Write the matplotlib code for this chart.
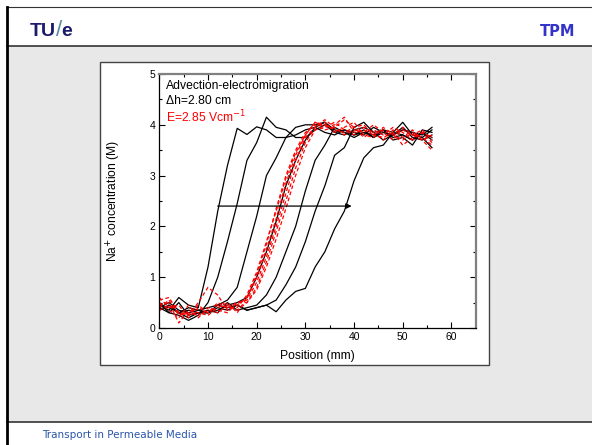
import numpy as np
import matplotlib.pyplot as plt
from matplotlib.patches import Rectangle
from matplotlib.lines import Line2D

# positions along the column (mm)
position = list(range(0, 58, 2))

# measured Na+ profiles, black = advection-electromigration runs
black_runs = [
    [0.45, 0.35, 0.6, 0.45, 0.4, 1.2, 2.3, 3.2, 3.93, 3.81, 3.96, 3.9, 3.75, 3.75, 3.8,
     3.9, 3.95, 3.85, 3.8, 3.9, 3.85, 3.8, 3.95, 3.85, 3.8, 3.9, 3.85, 3.8, 3.95],
    [0.4, 0.3, 0.25, 0.15, 0.25, 0.5, 1.0, 1.7, 2.45, 3.3, 3.65, 4.15, 3.95, 3.9, 3.75,
     3.75, 3.9, 4.0, 3.85, 3.9, 3.8, 3.85, 3.75, 3.9, 3.85, 3.8, 3.7, 3.85, 3.75],
    [0.35, 0.45, 0.3, 0.2, 0.3, 0.3, 0.45, 0.55, 0.8, 1.5, 2.2, 3.0, 3.35, 3.75, 3.95,
     4.0, 4.0, 4.05, 3.85, 3.8, 3.9, 3.95, 3.85, 3.7, 3.8, 3.9, 3.85, 3.75, 3.9],
    [0.45, 0.4, 0.3, 0.35, 0.3, 0.3, 0.35, 0.45, 0.5, 0.6, 1.0, 1.5, 2.1, 2.8, 3.3,
     3.7, 3.95, 4.05, 3.9, 3.85, 3.75, 3.85, 3.8, 3.9, 3.75, 3.8, 3.7, 3.85, 3.7],
    [0.5, 0.3, 0.5, 0.25, 0.3, 0.35, 0.3, 0.5, 0.35, 0.4, 0.45, 0.65, 1.0, 1.5, 2.0,
     2.7, 3.3, 3.6, 3.95, 3.85, 3.8, 3.9, 3.75, 3.85, 3.8, 3.95, 3.75, 3.7, 3.8],
    [0.4, 0.5, 0.35, 0.3, 0.35, 0.3, 0.4, 0.35, 0.45, 0.35, 0.4, 0.45, 0.55, 0.85, 1.2,
     1.7, 2.3, 2.8, 3.4, 3.55, 3.95, 4.05, 3.85, 3.9, 3.7, 3.75, 3.6, 3.9, 3.85],
    [0.35, 0.45, 0.3, 0.4, 0.35, 0.4, 0.45, 0.4, 0.45, 0.35, 0.4, 0.45, 0.32, 0.55, 0.72,
     0.78, 1.2, 1.5, 1.95, 2.3, 2.9, 3.35, 3.55, 3.6, 3.85, 4.05, 3.8, 3.75, 3.55],
]

# red dashed runs
red_runs = [
    [0.55, 0.6, 0.3, 0.25, 0.5, 0.8, 0.65, 0.35, 0.45, 0.6, 1.05, 1.65, 2.35, 3.0, 3.5,
     3.85, 4.0, 3.9, 3.95, 4.1, 3.95, 3.75, 3.9, 3.8, 3.95, 3.85, 3.7, 3.85, 3.65],
    [0.45, 0.5, 0.1, 0.35, 0.3, 0.25, 0.4, 0.5, 0.3, 0.6, 1.0, 1.55, 2.15, 2.85, 3.4,
     3.8, 4.05, 3.95, 4.05, 3.9, 3.8, 3.95, 3.85, 3.7, 3.9, 3.75, 3.9, 3.7, 3.5],
    [0.6, 0.4, 0.45, 0.2, 0.4, 0.3, 0.45, 0.4, 0.5, 0.55, 0.9, 1.4, 2.0, 2.65, 3.3,
     3.75, 3.95, 4.05, 3.85, 3.95, 4.05, 3.8, 3.75, 3.95, 3.8, 3.7, 3.85, 3.75, 3.6],
    [0.4, 0.55, 0.25, 0.3, 0.25, 0.35, 0.3, 0.45, 0.35, 0.5, 0.8, 1.3, 1.9, 2.5, 3.15,
     3.65, 3.95, 4.1, 3.95, 3.8, 3.9, 3.85, 4.0, 3.85, 3.7, 3.95, 3.8, 3.9, 3.7],
    [0.5, 0.35, 0.2, 0.45, 0.2, 0.4, 0.35, 0.3, 0.5, 0.5, 0.75, 1.2, 1.75, 2.35, 3.0,
     3.55, 3.9, 3.95, 4.0, 4.15, 3.85, 3.9, 3.8, 3.9, 3.85, 3.6, 3.75, 3.85, 3.75],
    [0.35, 0.45, 0.3, 0.25, 0.45, 0.3, 0.5, 0.4, 0.4, 0.65, 1.1, 1.7, 2.3, 2.95, 3.45,
     3.8, 4.05, 4.0, 3.9, 3.85, 3.95, 4.0, 3.8, 3.75, 3.85, 3.9, 3.8, 3.7, 3.8],
]

x_ticks = [0, 10, 20, 30, 40, 50, 60]
y_ticks = [0, 1, 2, 3, 4, 5]

W, H = 592, 445
fig = plt.figure(figsize=(W / 100, H / 100), dpi=100)
fig.patch.set_facecolor('white')

def px(x0, y0, w, h):
    # pixel box (from top-left) -> figure fraction
    return (x0 / W, 1 - (y0 + h) / H, w / W, h / H)

# slide background
fig.patches.append(Rectangle(px(7, 46, 590, 376)[:2], 590 / W, 376 / H,
                             transform=fig.transFigure, facecolor='#e8e8e8',
                             edgecolor='none', zorder=0))
fig.add_artist(Line2D([7 / W, 1], [1 - 46 / H] * 2, color='#333333', lw=1.2))
fig.add_artist(Line2D([7 / W, 1], [1 - 422 / H] * 2, color='#333333', lw=1.2))
fig.add_artist(Line2D([7 / W, 1], [1 - 7 / H] * 2, color='#333333', lw=0.8))
fig.add_artist(Line2D([7 / W] * 2, [0, 1 - 7 / H], color='black', lw=2))

# white chart panel
fig.patches.append(Rectangle(px(100, 62, 389, 303)[:2], 389 / W, 303 / H,
                             transform=fig.transFigure, facecolor='white',
                             edgecolor='#444444', lw=1.0, zorder=1))

# header / footer text, logo pieces placed one after the other
rend = fig.canvas.get_renderer()
xpos = 30
for piece, col, wt, fs in [('TU', '#1b1b6b', 'bold', 14), ('/', '#5a8aa0', 'normal', 16),
                           ('e', '#1b1b6b', 'bold', 14)]:
    t = fig.text(xpos / W, 1 - 31 / H, piece, fontsize=fs, fontweight=wt, color=col,
                 va='center', ha='left', family='Liberation Sans')
    xpos += t.get_window_extent(rend).width - 0.5
fig.text(575 / W, 1 - 31 / H, 'TPM', fontsize=10.5, fontweight='bold', color='#3333cc',
         va='center', ha='right', family='DejaVu Sans')
fig.text(42 / W, 1 - 435 / H, 'Transport in Permeable Media', fontsize=7.5,
         color='#2a55aa', va='center', ha='left', family='DejaVu Sans')

# the chart itself
plt.rcParams['font.family'] = ['Liberation Sans', 'DejaVu Sans']
ax = fig.add_axes(px(159.3, 74, 316.5, 254))
ax.set_zorder(2)

for run in black_runs:
    ax.plot(position, run, color='black', lw=0.9)
for run in red_runs:
    ax.plot(position, run, color='red', lw=0.9, linestyle=(0, (3, 2)))

ax.annotate('', xy=(39.5, 2.4), xytext=(12, 2.4),
            arrowprops=dict(arrowstyle='-|>', color='black', lw=0.9,
                            mutation_scale=8, shrinkA=0, shrinkB=0))

ax.text(1.4, 4.76, 'Advection-electromigration', fontsize=8.7, va='center')
ax.text(1.4, 4.47, '\u0394h=2.80 cm', fontsize=8.7, va='center')
ax.text(1.4, 4.15, 'E=2.85 Vcm$^{-1}$', fontsize=8.7, va='center', color='red')

ax.set_xlim(0, 65)
ax.set_ylim(0, 5)
ax.set_xticks(x_ticks)
ax.set_yticks(y_ticks)
ax.set_xticks(np.arange(5, 65, 10), minor=True)
ax.set_yticks(np.arange(0.5, 5, 1), minor=True)
ax.tick_params(which='both', direction='in', top=True, right=True, labelsize=7.5,
               width=0.8)
ax.tick_params(which='major', length=4, pad=3)
ax.tick_params(which='minor', length=2.5)
for side in ['left', 'bottom']:
    ax.spines[side].set_linewidth(0.9)
for side in ['top', 'right']:
    ax.spines[side].set_color('#808080')
    ax.spines[side].set_linewidth(1.6)

ax.set_xlabel('Position (mm)', fontsize=8.7)
ax.set_ylabel('Na$^{+}$ concentration (M)', fontsize=8.7)
ax.xaxis.set_label_coords(0.5, -0.085)
ax.yaxis.set_label_coords(-0.114, 0.5)

fig.savefig('out.png', dpi=100)
